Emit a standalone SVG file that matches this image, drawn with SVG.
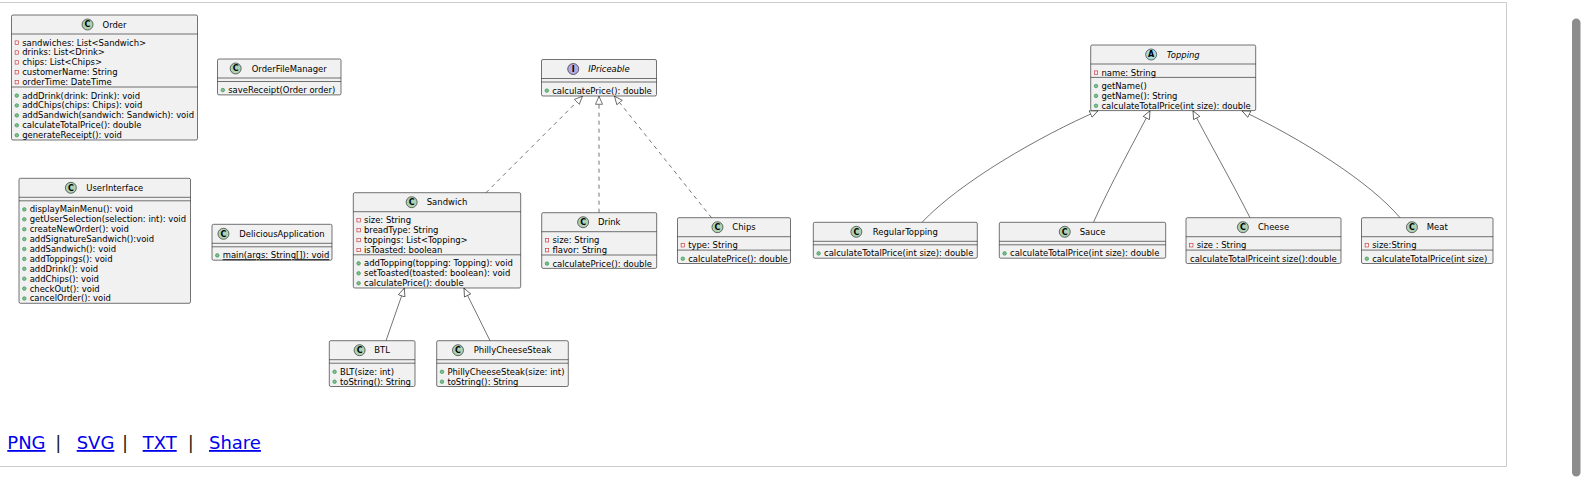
<svg xmlns="http://www.w3.org/2000/svg" width="1581" height="478" viewBox="0 0 1581 478">
<style>
.box{fill:#F1F1F1;stroke:#181818;stroke-width:0.6}
.sep{stroke:#181818;stroke-width:0.6}
.t{font-family:"DejaVu Sans",sans-serif;font-size:8.45px;fill:#000}
.n{font-family:"DejaVu Sans",sans-serif;font-size:8.45px;fill:#000;text-anchor:middle}
.it{font-style:italic}
.cc{fill:#ADD1B2;stroke:#181818;stroke-width:0.6}
.ci{fill:#B4A7E5;stroke:#181818;stroke-width:0.6}
.ca{fill:#A9DCDF;stroke:#181818;stroke-width:0.6}
.lt{font-family:"DejaVu Sans",sans-serif;font-size:8px;font-weight:bold;fill:#000;text-anchor:middle}
.pv{fill:none;stroke:#C82930;stroke-width:0.6}
.pb{fill:#84BE84;stroke:#038048;stroke-width:0.5}
.edge{fill:none;stroke:#181818;stroke-width:0.6}
.dash{stroke-dasharray:4,4}
.link{font-family:"DejaVu Sans",sans-serif;font-size:18px;fill:#0000EE;text-decoration:underline}
.bar{font-family:"DejaVu Sans",sans-serif;font-size:18px;fill:#222;text-anchor:middle}
</style>
<defs>
<marker id="tri" markerUnits="userSpaceOnUse" markerWidth="10" markerHeight="10" viewBox="0 0 10 10" refX="8.6" refY="4.5" orient="auto">
<path d="M0.5,1 L8.6,4.5 L0.5,8 Z" fill="#FFFFFF" stroke="#181818" stroke-width="0.6"/>
</marker>
</defs>
<rect width="1581" height="478" fill="#FFFFFF"/>
<path d="M0,2.5 H1506.5 V466.5 H0" fill="none" stroke="#CCCCCC" stroke-width="1"/>
<rect x="1572" y="18.5" width="8.5" height="458" rx="4.25" fill="#8C8C8C"/>

<g id="connectors">
<path class="edge dash" d="M486,192.7 L582.5,96.2" marker-end="url(#tri)"/>
<path class="edge dash" d="M599,212.7 L599,96.2" marker-end="url(#tri)"/>
<path class="edge dash" d="M711.5,217.7 L614.5,96.2" marker-end="url(#tri)"/>
<path class="edge" d="M386,340.7 L404.3,288.2" marker-end="url(#tri)"/>
<path class="edge" d="M490,340.7 L464,288.2" marker-end="url(#tri)"/>
<path class="edge" d="M922,222.3 C960,182 1040,136 1098,110.8" marker-end="url(#tri)"/>
<path class="edge" d="M1093.5,222.3 C1110,185 1135,140 1150,110.8" marker-end="url(#tri)"/>
<path class="edge" d="M1250,217.7 C1232,182 1208,140 1193,110.8" marker-end="url(#tri)"/>
<path class="edge" d="M1400,217.7 C1370,182 1300,138 1242,110.8" marker-end="url(#tri)"/>
</g>

<g id="Order">
<rect class="box" x="11.5" y="15" width="186" height="125" rx="1.5"/>
<line class="sep" x1="11.5" y1="34" x2="197.5" y2="34"/>
<line class="sep" x1="11.5" y1="87" x2="197.5" y2="87"/>
<circle class="cc" cx="87.55" cy="24.5" r="5.5"/><text class="lt" x="87.55" y="27.4">C</text>
<text class="n" x="114.5" y="27.6">Order</text>
<rect class="pv" x="15.1" y="40.9" width="3.4" height="3.4"/><text class="t" x="22.2" y="45.5">sandwiches: List&lt;Sandwich&gt;</text>
<rect class="pv" x="15.1" y="50.8" width="3.4" height="3.4"/><text class="t" x="22.2" y="55.4">drinks: List&lt;Drink&gt;</text>
<rect class="pv" x="15.1" y="60.7" width="3.4" height="3.4"/><text class="t" x="22.2" y="65.3">chips: List&lt;Chips&gt;</text>
<rect class="pv" x="15.1" y="70.6" width="3.4" height="3.4"/><text class="t" x="22.2" y="75.2">customerName: String</text>
<rect class="pv" x="15.1" y="80.5" width="3.4" height="3.4"/><text class="t" x="22.2" y="85.1">orderTime: DateTime</text>
<circle class="pb" cx="16.8" cy="95.6" r="1.8"/><text class="t" x="22.2" y="98.5">addDrink(drink: Drink): void</text>
<circle class="pb" cx="16.8" cy="105.5" r="1.8"/><text class="t" x="22.2" y="108.4">addChips(chips: Chips): void</text>
<circle class="pb" cx="16.8" cy="115.4" r="1.8"/><text class="t" x="22.2" y="118.3">addSandwich(sandwich: Sandwich): void</text>
<circle class="pb" cx="16.8" cy="125.3" r="1.8"/><text class="t" x="22.2" y="128.2">calculateTotalPrice(): double</text>
<circle class="pb" cx="16.8" cy="135.2" r="1.8"/><text class="t" x="22.2" y="138.1">generateReceipt(): void</text>
</g>

<g id="OrderFileManager">
<rect class="box" x="217.5" y="59" width="123.5" height="35.9" rx="1.5"/>
<line class="sep" x1="217.5" y1="78" x2="341" y2="78"/>
<line class="sep" x1="217.5" y1="81.5" x2="341" y2="81.5"/>
<circle class="cc" cx="235.65" cy="68.5" r="5.5"/><text class="lt" x="235.65" y="71.4">C</text>
<text class="n" x="289.25" y="71.6">OrderFileManager</text>
<circle class="pb" cx="222.8" cy="90.1" r="1.8"/><text class="t" x="228.2" y="93">saveReceipt(Order order)</text>
</g>

<g id="UserInterface">
<rect class="box" x="19" y="178.3" width="171.5" height="125" rx="1.5"/>
<line class="sep" x1="19" y1="197.3" x2="190.5" y2="197.3"/>
<line class="sep" x1="19" y1="200.8" x2="190.5" y2="200.8"/>
<circle class="cc" cx="70.85" cy="187.8" r="5.5"/><text class="lt" x="70.85" y="190.7">C</text>
<text class="n" x="114.75" y="190.9">UserInterface</text>
<circle class="pb" cx="24.3" cy="209.4" r="1.8"/><text class="t" x="29.7" y="212.3">displayMainMenu(): void</text>
<circle class="pb" cx="24.3" cy="219.3" r="1.8"/><text class="t" x="29.7" y="222.2">getUserSelection(selection: int): void</text>
<circle class="pb" cx="24.3" cy="229.2" r="1.8"/><text class="t" x="29.7" y="232.1">createNewOrder(): void</text>
<circle class="pb" cx="24.3" cy="239.1" r="1.8"/><text class="t" x="29.7" y="242">addSignatureSandwich():void</text>
<circle class="pb" cx="24.3" cy="249" r="1.8"/><text class="t" x="29.7" y="251.9">addSandwich(): void</text>
<circle class="pb" cx="24.3" cy="258.9" r="1.8"/><text class="t" x="29.7" y="261.8">addToppings(): void</text>
<circle class="pb" cx="24.3" cy="268.8" r="1.8"/><text class="t" x="29.7" y="271.7">addDrink(): void</text>
<circle class="pb" cx="24.3" cy="278.7" r="1.8"/><text class="t" x="29.7" y="281.6">addChips(): void</text>
<circle class="pb" cx="24.3" cy="288.6" r="1.8"/><text class="t" x="29.7" y="291.5">checkOut(): void</text>
<circle class="pb" cx="24.3" cy="298.5" r="1.8"/><text class="t" x="29.7" y="301.4">cancelOrder(): void</text>
</g>

<g id="DeliciousApplication">
<rect class="box" x="212" y="224.3" width="120" height="35.9" rx="1.5"/>
<line class="sep" x1="212" y1="243.3" x2="332" y2="243.3"/>
<line class="sep" x1="212" y1="246.8" x2="332" y2="246.8"/>
<circle class="cc" cx="223.45" cy="233.8" r="5.5"/><text class="lt" x="223.45" y="236.7">C</text>
<text class="n" x="282" y="236.9">DeliciousApplication</text>
<circle class="pb" cx="217.3" cy="255.4" r="1.8"/><text class="t" x="222.7" y="258.3" text-decoration="underline">main(args: String[]): void</text>
</g>

<g id="IPriceable">
<rect class="box" x="541.5" y="59.5" width="115" height="36.5" rx="1.5"/>
<line class="sep" x1="541.5" y1="78.5" x2="656.5" y2="78.5"/>
<line class="sep" x1="541.5" y1="82" x2="656.5" y2="82"/>
<circle class="ci" cx="573.2" cy="69" r="5.5"/><text class="lt" x="573.2" y="71.9">I</text>
<text class="n it" x="609" y="72.1">IPriceable</text>
<circle class="pb" cx="546.8" cy="90.6" r="1.8"/><text class="t" x="552.2" y="93.5">calculatePrice(): double</text>
</g>

<g id="Sandwich">
<rect class="box" x="353.3" y="192.7" width="167.4" height="95.3" rx="1.5"/>
<line class="sep" x1="353.3" y1="211.7" x2="520.7" y2="211.7"/>
<line class="sep" x1="353.3" y1="254.8" x2="520.7" y2="254.8"/>
<circle class="cc" cx="411.65" cy="202.2" r="5.5"/><text class="lt" x="411.65" y="205.1">C</text>
<text class="n" x="447" y="205.3">Sandwich</text>
<rect class="pv" x="356.9" y="218.6" width="3.4" height="3.4"/><text class="t" x="364" y="223.2">size: String</text>
<rect class="pv" x="356.9" y="228.5" width="3.4" height="3.4"/><text class="t" x="364" y="233.1">breadType: String</text>
<rect class="pv" x="356.9" y="238.4" width="3.4" height="3.4"/><text class="t" x="364" y="243">toppings: List&lt;Topping&gt;</text>
<rect class="pv" x="356.9" y="248.3" width="3.4" height="3.4"/><text class="t" x="364" y="252.9">isToasted: boolean</text>
<circle class="pb" cx="358.6" cy="263.4" r="1.8"/><text class="t" x="364" y="266.3">addTopping(topping: Topping): void</text>
<circle class="pb" cx="358.6" cy="273.3" r="1.8"/><text class="t" x="364" y="276.2">setToasted(toasted: boolean): void</text>
<circle class="pb" cx="358.6" cy="283.2" r="1.8"/><text class="t" x="364" y="286.1">calculatePrice(): double</text>
</g>

<g id="Drink">
<rect class="box" x="541.7" y="212.7" width="115" height="55.7" rx="1.5"/>
<line class="sep" x1="541.7" y1="231.7" x2="656.7" y2="231.7"/>
<line class="sep" x1="541.7" y1="255" x2="656.7" y2="255"/>
<circle class="cc" cx="583.1" cy="222.2" r="5.5"/><text class="lt" x="583.1" y="225.1">C</text>
<text class="n" x="609.2" y="225.3">Drink</text>
<rect class="pv" x="545.3" y="238.6" width="3.4" height="3.4"/><text class="t" x="552.4" y="243.2">size: String</text>
<rect class="pv" x="545.3" y="248.5" width="3.4" height="3.4"/><text class="t" x="552.4" y="253.1">flavor: String</text>
<circle class="pb" cx="547" cy="263.6" r="1.8"/><text class="t" x="552.4" y="266.5">calculatePrice(): double</text>
</g>

<g id="Chips">
<rect class="box" x="677.5" y="217.7" width="113" height="45.8" rx="1.5"/>
<line class="sep" x1="677.5" y1="236.7" x2="790.5" y2="236.7"/>
<line class="sep" x1="677.5" y1="250.1" x2="790.5" y2="250.1"/>
<circle class="cc" cx="717.45" cy="227.2" r="5.5"/><text class="lt" x="717.45" y="230.1">C</text>
<text class="n" x="744" y="230.3">Chips</text>
<rect class="pv" x="681.1" y="243.6" width="3.4" height="3.4"/><text class="t" x="688.2" y="248.2">type: String</text>
<circle class="pb" cx="682.8" cy="258.7" r="1.8"/><text class="t" x="688.2" y="261.6">calculatePrice(): double</text>
</g>

<g id="BTL">
<rect class="box" x="329.3" y="340.7" width="85.7" height="45.8" rx="1.5"/>
<line class="sep" x1="329.3" y1="359.7" x2="415" y2="359.7"/>
<line class="sep" x1="329.3" y1="363.2" x2="415" y2="363.2"/>
<circle class="cc" cx="359.6" cy="350.2" r="5.5"/><text class="lt" x="359.6" y="353.1">C</text>
<text class="n" x="382.15" y="353.3">BTL</text>
<circle class="pb" cx="334.6" cy="371.8" r="1.8"/><text class="t" x="340" y="374.7">BLT(size: int)</text>
<circle class="pb" cx="334.6" cy="381.7" r="1.8"/><text class="t" x="340" y="384.6">toString(): String</text>
</g>

<g id="PhillyCheeseSteak">
<rect class="box" x="436.7" y="340.7" width="131.6" height="45.8" rx="1.5"/>
<line class="sep" x1="436.7" y1="359.7" x2="568.3" y2="359.7"/>
<line class="sep" x1="436.7" y1="363.2" x2="568.3" y2="363.2"/>
<circle class="cc" cx="458" cy="350.2" r="5.5"/><text class="lt" x="458" y="353.1">C</text>
<text class="n" x="512.5" y="353.3">PhillyCheeseSteak</text>
<circle class="pb" cx="442" cy="371.8" r="1.8"/><text class="t" x="447.4" y="374.7">PhillyCheeseSteak(size: int)</text>
<circle class="pb" cx="442" cy="381.7" r="1.8"/><text class="t" x="447.4" y="384.6">toString(): String</text>
</g>

<g id="Topping">
<rect class="box" x="1090.7" y="45" width="165" height="65.6" rx="1.5"/>
<line class="sep" x1="1090.7" y1="64" x2="1255.7" y2="64"/>
<line class="sep" x1="1090.7" y1="77.4" x2="1255.7" y2="77.4"/>
<circle class="ca" cx="1151.15" cy="54.5" r="5.5"/><text class="lt" x="1151.15" y="57.4">A</text>
<text class="n it" x="1183.2" y="57.6">Topping</text>
<rect class="pv" x="1094.3" y="70.9" width="3.4" height="3.4"/><text class="t" x="1101.4" y="75.5">name: String</text>
<circle class="pb" cx="1096" cy="86" r="1.8"/><text class="t" x="1101.4" y="88.9">getName()</text>
<circle class="pb" cx="1096" cy="95.9" r="1.8"/><text class="t" x="1101.4" y="98.8">getName(): String</text>
<circle class="pb" cx="1096" cy="105.8" r="1.8"/><text class="t" x="1101.4" y="108.7">calculateTotalPrice(int size): double</text>
</g>

<g id="RegularTopping">
<rect class="box" x="813.3" y="222.3" width="164" height="35.9" rx="1.5"/>
<line class="sep" x1="813.3" y1="241.3" x2="977.3" y2="241.3"/>
<line class="sep" x1="813.3" y1="244.8" x2="977.3" y2="244.8"/>
<circle class="cc" cx="856.35" cy="231.8" r="5.5"/><text class="lt" x="856.35" y="234.7">C</text>
<text class="n" x="905.3" y="234.9">RegularTopping</text>
<circle class="pb" cx="818.6" cy="253.4" r="1.8"/><text class="t" x="824" y="256.3">calculateTotalPrice(int size): double</text>
</g>

<g id="Sauce">
<rect class="box" x="999.3" y="222.3" width="166.4" height="35.9" rx="1.5"/>
<line class="sep" x1="999.3" y1="241.3" x2="1165.7" y2="241.3"/>
<line class="sep" x1="999.3" y1="244.8" x2="1165.7" y2="244.8"/>
<circle class="cc" cx="1064.75" cy="231.8" r="5.5"/><text class="lt" x="1064.75" y="234.7">C</text>
<text class="n" x="1092.5" y="234.9">Sauce</text>
<circle class="pb" cx="1004.6" cy="253.4" r="1.8"/><text class="t" x="1010" y="256.3">calculateTotalPrice(int size): double</text>
</g>

<g id="Cheese">
<rect class="box" x="1186" y="217.7" width="155" height="45.8" rx="1.5"/>
<line class="sep" x1="1186" y1="236.7" x2="1341" y2="236.7"/>
<line class="sep" x1="1186" y1="250.1" x2="1341" y2="250.1"/>
<circle class="cc" cx="1242.9" cy="227.2" r="5.5"/><text class="lt" x="1242.9" y="230.1">C</text>
<text class="n" x="1273.5" y="230.3">Cheese</text>
<rect class="pv" x="1189.6" y="243.6" width="3.4" height="3.4"/><text class="t" x="1196.7" y="248.2">size : String</text>
<text class="t" x="1190" y="261.6">calculateTotalPriceint size():double</text>
</g>

<g id="Meat">
<rect class="box" x="1361.5" y="217.7" width="131.5" height="45.8" rx="1.5"/>
<line class="sep" x1="1361.5" y1="236.7" x2="1493" y2="236.7"/>
<line class="sep" x1="1361.5" y1="250.1" x2="1493" y2="250.1"/>
<circle class="cc" cx="1411.95" cy="227.2" r="5.5"/><text class="lt" x="1411.95" y="230.1">C</text>
<text class="n" x="1437.25" y="230.3">Meat</text>
<rect class="pv" x="1365.1" y="243.6" width="3.4" height="3.4"/><text class="t" x="1372.2" y="248.2">size:String</text>
<circle class="pb" cx="1366.8" cy="258.7" r="1.8"/><text class="t" x="1372.2" y="261.6">calculateTotalPrice(int size)</text>
</g>

<g id="links">
<text class="link" x="7.3" y="449">PNG</text>
<text class="bar" x="58.3" y="449">|</text>
<text class="link" x="76.7" y="449">SVG</text>
<text class="bar" x="125" y="449">|</text>
<text class="link" x="142.7" y="449">TXT</text>
<text class="bar" x="190.7" y="449">|</text>
<text class="link" x="209" y="449">Share</text>
</g>
</svg>
